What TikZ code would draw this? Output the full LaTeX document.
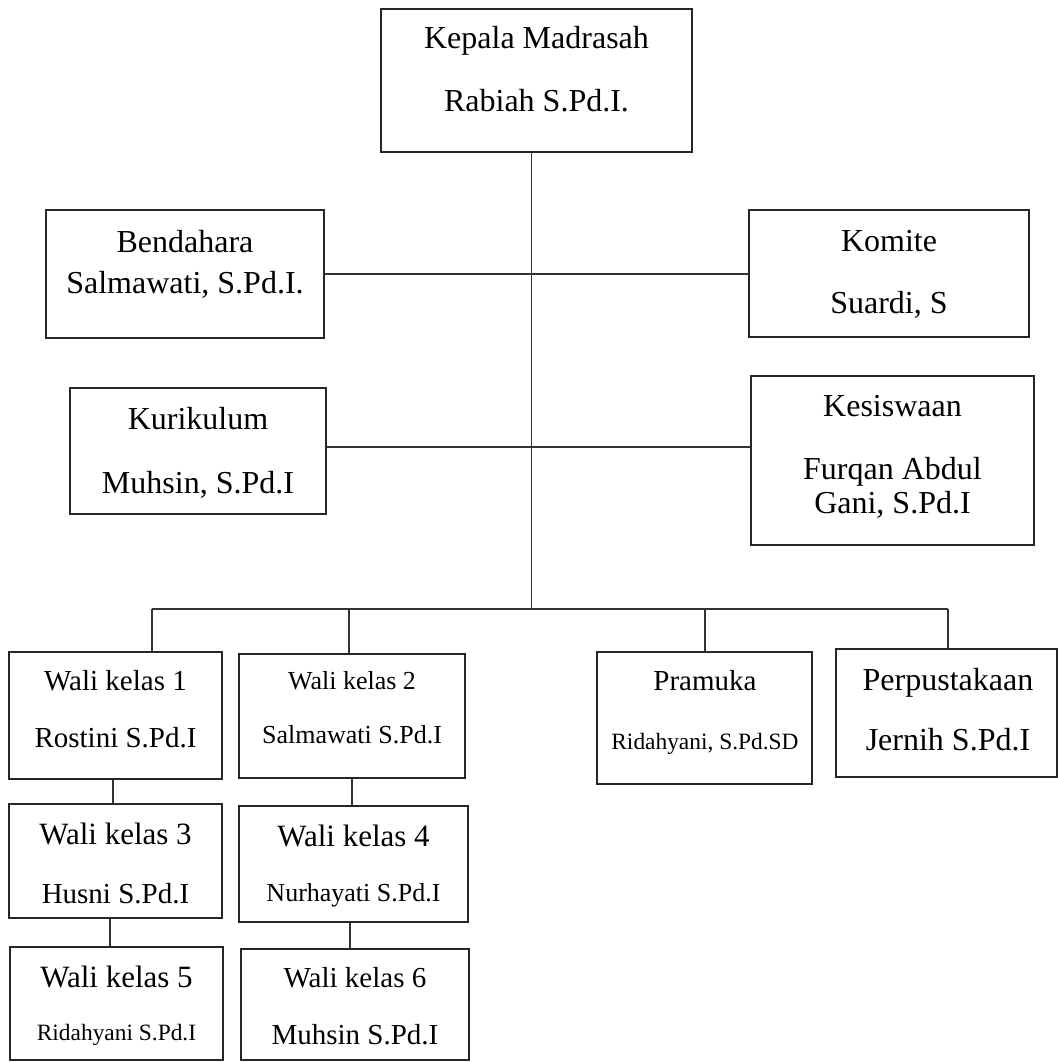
\documentclass[tikz,border=0pt]{standalone}
\usepackage{fontspec}
\setmainfont{Liberation Serif}

\begin{document}
\begin{tikzpicture}
    [x=0.5pt, y=-0.5pt,
     every node/.style={anchor=base, inner sep=0pt},
     box/.style={draw=black!85, line width=1pt, anchor=center},
     link/.style={draw=black!80, line width=0.8pt},
     bigtext/.style={font=\fontsize{16}{19}\selectfont},
     kelastext/.style={font=\fontsize{15.5}{18}\selectfont},
     midtext/.style={font=\fontsize{14.5}{17}\selectfont},
     smalltext/.style={font=\fontsize{13}{15}\selectfont},
     tinytext/.style={font=\fontsize{11.7}{14}\selectfont}]

    \useasboundingbox (0,0) rectangle (1058,1062);

    % top
    \node[box, minimum width=155.5pt, minimum height=71.5pt] (kepala) at (536.5,80.5) {};
    \node[bigtext] (kepala-a) at (536.5,48) {Kepala Madrasah};
    \node[bigtext] (kepala-b) at (536.5,111) {Rabiah S.Pd.I.};

    % staff
    \node[box, minimum width=139pt, minimum height=64pt] (bendahara) at (185,274) {};
    \node[bigtext] (bendahara-a) at (185,252) {Bendahara};
    \node[bigtext] (bendahara-b) at (185,293.5) {Salmawati, S.Pd.I.};

    \node[box, minimum width=140pt, minimum height=63.5pt] (komite) at (889,273.5) {};
    \node[bigtext] (komite-a) at (889,251.5) {Komite};
    \node[bigtext] (komite-b) at (889,313) {Suardi, S};

    \node[box, minimum width=128pt, minimum height=63pt] (kurikulum) at (198,451) {};
    \node[bigtext] (kurikulum-a) at (198,429.5) {Kurikulum};
    \node[bigtext] (kurikulum-b) at (198,493) {Muhsin, S.Pd.I};

    \node[box, minimum width=141.5pt, minimum height=84.5pt] (kesiswaan) at (892.5,460.5) {};
    \node[bigtext] (kesiswaan-a) at (892.5,416) {Kesiswaan};
    \node[bigtext] (kesiswaan-b) at (892.5,479) {Furqan Abdul};
    \node[bigtext] (kesiswaan-c) at (892.5,513) {Gani, S.Pd.I};

    % bottom row
    \node[box, minimum width=106.5pt, minimum height=63.5pt] (wali1) at (115.5,715.5) {};
    \node[midtext] (wali1-a) at (115.5,690) {Wali kelas 1};
    \node[midtext] (wali1-b) at (115.5,747) {Rostini S.Pd.I};

    \node[box, minimum width=113pt, minimum height=62pt] (wali2) at (352,716) {};
    \node[smalltext] (wali2-a) at (352,689) {Wali kelas 2};
    \node[smalltext] (wali2-b) at (352,743) {Salmawati S.Pd.I};

    \node[box, minimum width=107.5pt, minimum height=66pt] (pramuka) at (704.5,718) {};
    \node[midtext] (pramuka-a) at (705,690) {Pramuka};
    \node[tinytext] (pramuka-b) at (705,749) {Ridahyani, S.Pd.SD};

    \node[box, minimum width=110.5pt, minimum height=64pt] (perpus) at (946.5,713) {};
    \node[bigtext] (perpus-a) at (948,690) {Perpustakaan};
    \node[bigtext] (perpus-b) at (948,750) {Jernih S.Pd.I};

    \node[box, minimum width=106.5pt, minimum height=57pt] (wali3) at (115.5,861) {};
    \node[kelastext] (wali3-a) at (115.5,844) {Wali kelas 3};
    \node[midtext] (wali3-b) at (115.5,903) {Husni S.Pd.I};

    \node[box, minimum width=114.5pt, minimum height=58pt] (wali4) at (353.5,864) {};
    \node[kelastext] (wali4-a) at (353.5,846) {Wali kelas 4};
    \node[smalltext] (wali4-b) at (353.5,901) {Nurhayati S.Pd.I};

    \node[box, minimum width=106.5pt, minimum height=56.5pt] (wali5) at (116.5,1003.5) {};
    \node[kelastext] (wali5-a) at (116.5,987) {Wali kelas 5};
    \node[tinytext] (wali5-b) at (116.5,1040) {Ridahyani S.Pd.I};

    \node[box, minimum width=114pt, minimum height=55.5pt] (wali6) at (355,1004.5) {};
    \node[midtext] (wali6-a) at (355,987) {Wali kelas 6};
    \node[midtext] (wali6-b) at (355,1044) {Muhsin S.Pd.I};

    % lines
    \coordinate (hub) at (531.5,609);
    \coordinate (row2) at (531.5,447);
    \coordinate (bus1) at (152,609);
    \coordinate (bus2) at (349,609);
    \coordinate (bus3) at (705,609);
    \coordinate (bus4) at (948,609);

    \draw[link] (hub |- kepala.south) -- (hub);
    \draw[link] (bendahara.east) -- (bendahara.east -| komite.west);
    \draw[link] (kurikulum.east |- row2) -- (kesiswaan.west |- row2);
    \draw[link] (bus1) -- (bus4);
    \draw[link] (bus1) -- (bus1 |- wali1.north);
    \draw[link] (bus2) -- (bus2 |- wali2.north);
    \draw[link] (bus3) -- (bus3 |- pramuka.north);
    \draw[link] (bus4) -- (bus4 |- perpus.north);

    \draw[link] ([xshift=-1.25pt]wali1.south) -- ([xshift=-1.25pt]wali1.south |- wali3.north);
    \draw[link] ([xshift=-2.75pt]wali3.south) -- ([xshift=-2.75pt]wali3.south |- wali5.north);
    \draw[link] (wali2.south) -- (wali2.south |- wali4.north);
    \draw[link] ([xshift=-1.75pt]wali4.south) -- ([xshift=-1.75pt]wali4.south |- wali6.north);

\end{tikzpicture}
\end{document}
